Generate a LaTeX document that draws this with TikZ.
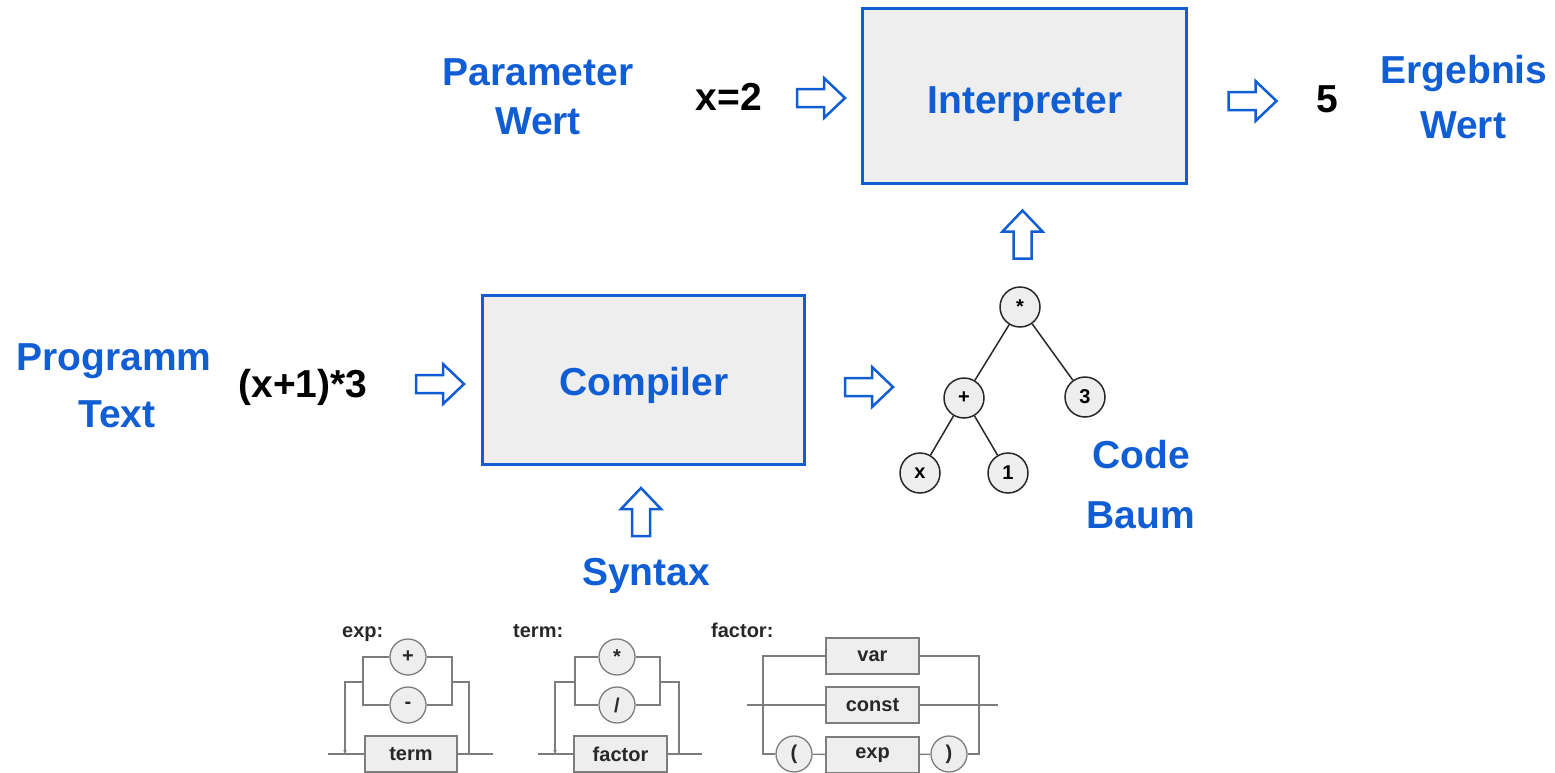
\documentclass[tikz,border=0pt]{standalone}
\usepackage{fontspec}
\setmainfont{Liberation Sans}
\usetikzlibrary{arrows.meta}

\definecolor{accent}{RGB}{17,94,212}
\definecolor{boxfill}{RGB}{238,238,238}
\definecolor{railgray}{RGB}{125,125,125}
\definecolor{inkgray}{RGB}{40,40,40}

\tikzset{
  bluetxt/.style={text=accent, font=\fontsize{39}{47}\selectfont\bfseries, inner sep=0pt, anchor=base},
  blacktxt/.style={text=black, font=\fontsize{39}{47}\selectfont\bfseries, inner sep=0pt, anchor=base},
  stage/.style={draw=accent, line width=3pt, fill=boxfill, inner sep=0pt},
  treenode/.style={circle, draw=inkgray, line width=1.5pt, fill=boxfill, minimum size=40pt, inner sep=0pt,
    font=\fontsize{20}{24}\selectfont\bfseries, text=black},
  treeedge/.style={draw=inkgray, line width=1.5pt},
  railtxt/.style={text=inkgray, font=\fontsize{20}{24}\selectfont\bfseries, inner sep=0pt, anchor=base west},
  railbox/.style={draw=railgray, line width=1.3pt, fill=boxfill, minimum width=93pt, minimum height=36pt,
    inner sep=0pt, font=\fontsize{20}{24}\selectfont\bfseries, text=inkgray},
  railterm/.style={circle, draw=railgray, line width=1.3pt, fill=boxfill, minimum size=36pt, inner sep=0pt,
    font=\fontsize{20}{24}\selectfont\bfseries, text=inkgray},
  rail/.style={draw=railgray, line width=1.3pt},
  blockarrow/.pic={
    \draw[accent, line width=2.5pt, line join=miter, fill=white]
      (-24,-9) -- (3,-9) -- (3,-20) -- (24,0) -- (3,20) -- (3,9) -- (-24,9) -- cycle;
  }
}

\begin{document}
\begin{tikzpicture}[x=1pt, y=-1pt]
  \useasboundingbox (0,0) rectangle (1555,772);
  \clip (0,0) rectangle (1555,772);

  % ---- interpreter stage ----
  \node[stage, minimum width=324pt, minimum height=175pt] (interp) at (1024,95.5) {};
  \node[bluetxt] (interpLbl) at (1025,113) {Interpreter};

  \node[bluetxt] (paramA) at (538,85) {Parameter};
  \node[bluetxt] (paramB) at (538,134) {Wert};
  \node[blacktxt] (xval) at (729,110) {x=2};
  \pic (arrParam) at (821,98) {blockarrow};

  \pic (arrResult) at (1252.5,101) {blockarrow};
  \node[blacktxt] (result) at (1327.5,112) {5};
  \node[bluetxt] (resA) at (1464,83) {Ergebnis};
  \node[bluetxt] (resB) at (1463,138) {Wert};

  \pic[rotate=90] (arrTree) at (1022.5,234.5) {blockarrow};

  % ---- compiler stage ----
  \node[stage, minimum width=322pt, minimum height=169pt] (comp) at (643,379.5) {};
  \node[bluetxt] (compLbl) at (644,395) {Compiler};

  \node[bluetxt] (progA) at (114,370) {Programm};
  \node[bluetxt] (progB) at (117,427) {Text};
  \node[blacktxt] (source) at (303,397) {(x+1)*3};
  \pic (arrSource) at (440,384) {blockarrow};
  \pic (arrCode) at (869,387) {blockarrow};

  \pic[rotate=90] (arrSyntax) at (641,512) {blockarrow};
  \node[bluetxt] (syntaxLbl) at (646,585) {Syntax};

  % ---- code tree ----
  \node[treenode] (root) at (1020,307) {*};
  \node[treenode] (plus) at (964,398) {+};
  \node[treenode] (three) at (1085,397) {3};
  \node[treenode] (xleaf) at (920,473) {x};
  \node[treenode] (one) at (1008,473) {1};
  \draw[treeedge] (root) -- (plus);
  \draw[treeedge] (root) -- (three);
  \draw[treeedge] (plus) -- (xleaf);
  \draw[treeedge] (plus) -- (one);

  \node[bluetxt] (codeA) at (1141,468) {Code};
  \node[bluetxt] (codeB) at (1141,528) {Baum};

  % ---- syntax diagram: exp ----
  \node[railtxt] (expLbl) at (342,637) {exp:};
  \node[railterm] (eplus) at (408,657) {+};
  \node[railterm] (eminus) at (408,705) {-};
  \node[railbox, minimum width=92pt] (eterm) at (411,754) {term};
  \coordinate (eIn) at (328,754);
  \coordinate (eOut) at (493,754);
  \coordinate (eLoopL) at (363,682);
  \coordinate (eLoopR) at (452,682);
  \coordinate (eOutL) at (345,754);
  \coordinate (eOutR) at (469,754);
  \draw[rail] (eplus.west) -| (eLoopL) |- (eminus.west);
  \draw[rail] (eplus.east) -| (eLoopR) |- (eminus.east);
  \draw[rail] (eLoopR) -| (eOutR);
  \draw[rail, -{Stealth[length=4pt,width=3.5pt]}] (eLoopL) -| (eOutL);
  \draw[rail] (eIn) -- (eterm.west);
  \draw[rail] (eterm.east) -- (eOut);

  % ---- syntax diagram: term ----
  \node[railtxt] (termLbl) at (513,637) {term:};
  \node[railterm] (tstar) at (617,657) {*};
  \node[railterm] (tslash) at (617,705) {/};
  \node[railbox] (tfactor) at (620.5,754) {factor};
  \coordinate (tIn) at (538,754);
  \coordinate (tOut) at (702,754);
  \coordinate (tLoopL) at (575,682);
  \coordinate (tLoopR) at (660,682);
  \coordinate (tOutL) at (555,754);
  \coordinate (tOutR) at (679,754);
  \draw[rail] (tstar.west) -| (tLoopL) |- (tslash.west);
  \draw[rail] (tstar.east) -| (tLoopR) |- (tslash.east);
  \draw[rail] (tLoopR) -| (tOutR);
  \draw[rail, -{Stealth[length=4pt,width=3.5pt]}] (tLoopL) -| (tOutL);
  \draw[rail] (tIn) -- (tfactor.west);
  \draw[rail] (tfactor.east) -- (tOut);

  % ---- syntax diagram: factor ----
  \node[railtxt] (factorLbl) at (711,637) {factor:};
  \node[railbox] (fvar) at (872.5,656) {var};
  \node[railbox] (fconst) at (872.5,705) {const};
  \node[railbox] (fexp) at (872.5,755) {exp};
  \node[railterm] (lpar) at (794,754) {(};
  \node[railterm] (rpar) at (949,754) {)};
  \coordinate (fIn) at (747,705);
  \coordinate (fOut) at (998,705);
  \coordinate (fL) at (763,705);
  \coordinate (fR) at (979,705);
  \draw[rail] (fvar.west) -| (fL) |- (lpar.west);
  \draw[rail] (fvar.east) -| (fR) |- (rpar.east);
  \draw[rail] (lpar) -- (fexp);
  \draw[rail] (fexp) -- (rpar);
  \draw[rail] (fIn) -- (fconst.west);
  \draw[rail] (fconst.east) -- (fOut);
\end{tikzpicture}
\end{document}
